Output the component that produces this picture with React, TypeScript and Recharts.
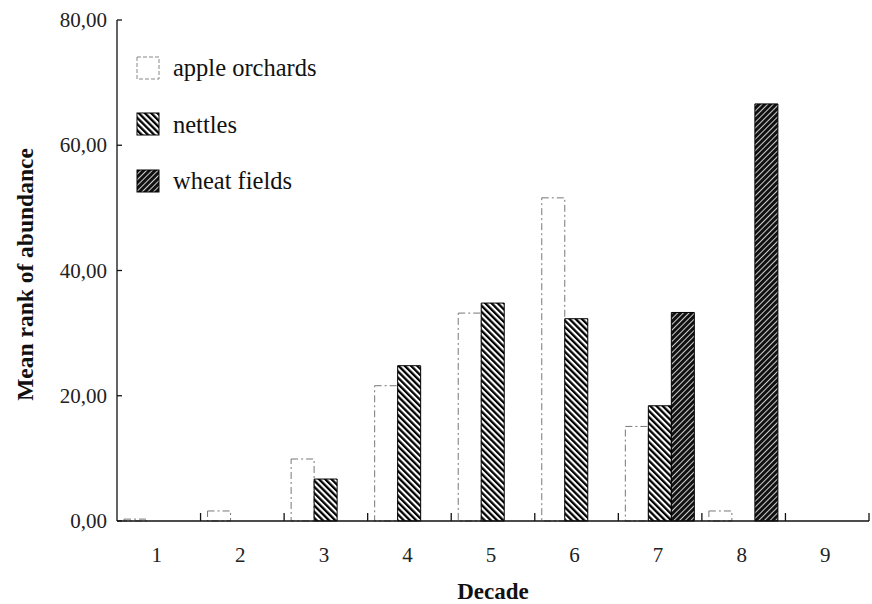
import React from 'react';
import { BarChart, Bar, XAxis, YAxis } from 'recharts';

const decades = ['1', '2', '3', '4', '5', '6', '7', '8', '9'];
const appleOrchards = [0.3, 1.6, 9.9, 21.6, 33.2, 51.6, 15.1, 1.6, 0];
const nettles = [0, 0, 6.7, 24.8, 34.8, 32.3, 18.4, 0, 0];
const wheatFields = [0, 0, 0, 0, 0, 0, 33.3, 66.6, 0];
const yTicks = [0, 20, 40, 60, 80];

const data = decades.map((d, i) => ({
  decade: d,
  apple: appleOrchards[i],
  nettles: nettles[i],
  wheat: wheatFields[i],
}));

const serif = '"Liberation Serif", "Times New Roman", serif';

const W = 872;
const H = 604;
const axisW = 117;
const rightGap = 3;
const bandW = (W - axisW - rightGap) / decades.length;

const legendItems = [
  { key: 'apple', label: 'apple orchards', fill: '#fff', stroke: '#888', dash: '4 2' },
  { key: 'nettles', label: 'nettles', fill: 'url(#nettlesHatch)', stroke: '#000', dash: undefined },
  { key: 'wheat', label: 'wheat fields', fill: 'url(#wheatHatch)', stroke: '#000', dash: undefined },
];

const fmt = (v: number) => v.toFixed(2).replace('.', ',');

const DecadeTick = (props: any) => {
  const { x, y, payload } = props;
  const edge = x + bandW / 2;
  return (
    <g>
      <line x1={edge} x2={edge} y1={y} y2={y - 8} stroke="#111" strokeWidth={1.3} />
      <text x={x - 2} y={y + 41} textAnchor="middle" fontSize={21} fontFamily={serif} fill="#222">
        {payload.value}
      </text>
    </g>
  );
};

const RankTick = (props: any) => {
  const { y, payload } = props;
  return (
    <g>
      <line x1={axisW} x2={axisW + 5} y1={y} y2={y} stroke="#111" strokeWidth={1.3} />
      <text x={axisW - 10} y={y + 7} textAnchor="end" fontSize={21} fontFamily={serif} fill="#222">
        {fmt(payload.value)}
      </text>
    </g>
  );
};

const LegendBox = () => (
  <div style={{ position: 'absolute', left: 136, top: 40, fontFamily: serif, fontSize: 24.5, color: '#111' }}>
    {legendItems.map((it) => (
      <div key={it.key} style={{ display: 'flex', alignItems: 'center', height: 56.5 }}>
        <svg width={25} height={25} style={{ marginRight: 12 }}>
          <rect x={1} y={1} width={22} height={22} fill={it.fill} stroke={it.stroke} strokeDasharray={it.dash} />
        </svg>
        <span>{it.label}</span>
      </div>
    ))}
  </div>
);

export default function App() {
  return (
    <div style={{ position: 'fixed', left: 0, top: 0, width: W, height: H, background: '#fff' }}>
      <BarChart
        width={W}
        height={H}
        data={data}
        margin={{ top: 20, right: rightGap, bottom: 0, left: 0 }}
        barCategoryGap={7}
        barGap={0}
      >
        <defs>
          <pattern id="nettlesHatch" patternUnits="userSpaceOnUse" width={4.4} height={4.4} patternTransform="rotate(-45)">
            <rect width={4.4} height={4.4} fill="#fff" />
            <rect width={2.3} height={4.4} fill="#000" />
          </pattern>
          <pattern id="wheatHatch" patternUnits="userSpaceOnUse" width={4} height={4} patternTransform="rotate(45)">
            <rect width={4} height={4} fill="#111" />
            <rect width={1} height={4} fill="#ccc" />
          </pattern>
        </defs>
        <XAxis
          dataKey="decade"
          height={83}
          tickLine={false}
          tickSize={0}
          tickMargin={0}
          axisLine={{ stroke: '#111', strokeWidth: 1.5 }}
          tick={<DecadeTick />}
          interval={0}
          label={{ value: 'Decade', position: 'center', dy: 28, style: { fontFamily: serif, fontWeight: 'bold', fontSize: 23, fill: '#111' } }}
        />
        <YAxis
          width={axisW}
          domain={[0, 80]}
          ticks={yTicks}
          tickLine={false}
          tickSize={0}
          tickMargin={0}
          axisLine={{ stroke: '#111', strokeWidth: 1.3 }}
          tick={<RankTick />}
          label={{ value: 'Mean rank of abundance', angle: -90, position: 'center', dx: -34, dy: 4, style: { fontFamily: serif, fontWeight: 'bold', fontSize: 23.5, fill: '#111' } }}
        />
        <Bar dataKey="apple" name="apple orchards" fill="#fff" stroke="#777" strokeWidth={1} strokeDasharray="7 3 2 3" isAnimationActive={false} />
        <Bar dataKey="nettles" name="nettles" fill="url(#nettlesHatch)" stroke="#000" strokeWidth={1} isAnimationActive={false} />
        <Bar dataKey="wheat" name="wheat fields" fill="url(#wheatHatch)" stroke="#000" strokeWidth={1} isAnimationActive={false} />
      </BarChart>
      <LegendBox />
    </div>
  );
}
